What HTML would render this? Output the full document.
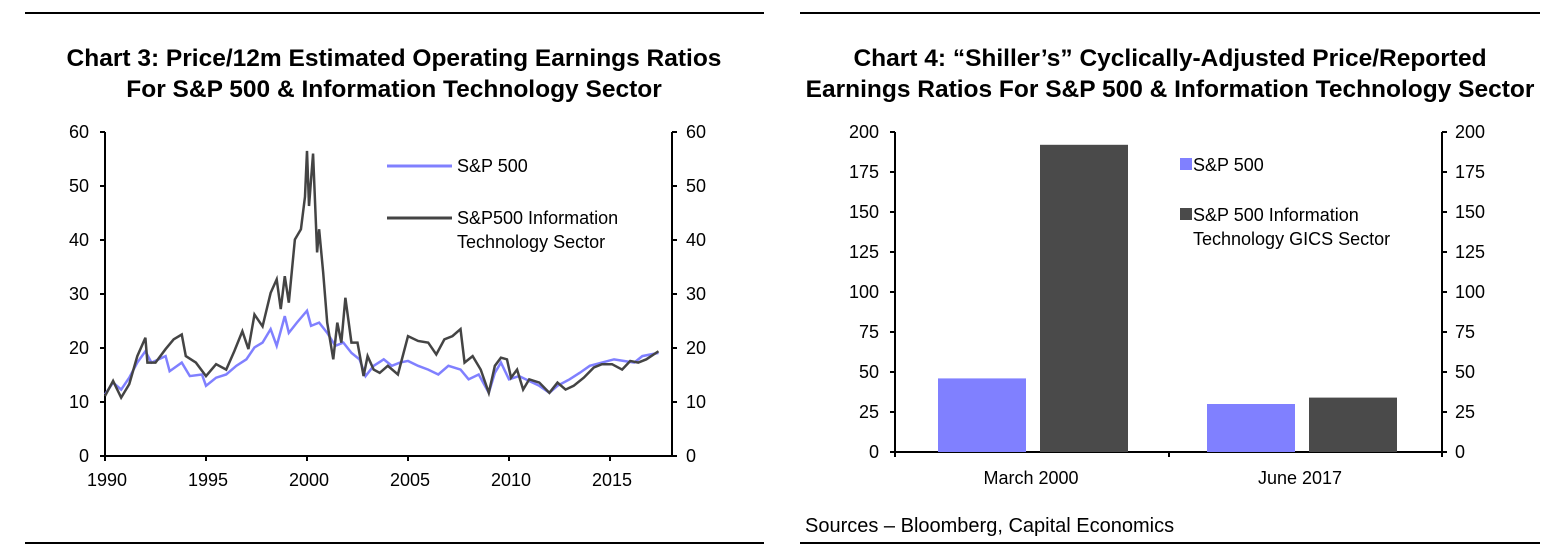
<!DOCTYPE html>
<html><head><meta charset="utf-8"><style>
body{margin:0;background:#fff;width:1567px;height:552px;overflow:hidden}
svg{display:block}
text{font-family:"Liberation Sans",sans-serif;fill:#000}
.t{font-weight:bold;font-size:24.5px}
.k{font-size:18px}
</style></head><body>
<svg id="s" width="1567" height="552">
<line x1="25" y1="13" x2="764" y2="13" stroke="#000" stroke-width="2"/>
<line x1="800" y1="13" x2="1540" y2="13" stroke="#000" stroke-width="2"/>
<line x1="25" y1="543" x2="764" y2="543" stroke="#000" stroke-width="2"/>
<line x1="800" y1="543" x2="1540" y2="543" stroke="#000" stroke-width="2"/>
<text class="t" x="394" y="66" text-anchor="middle">Chart 3: Price/12m Estimated Operating Earnings Ratios</text>
<text class="t" x="394" y="97" text-anchor="middle">For S&amp;P 500 &amp; Information Technology Sector</text>
<text class="t" x="1170" y="66" text-anchor="middle">Chart 4: “Shiller’s” Cyclically-Adjusted Price/Reported</text>
<text class="t" x="1170" y="97" text-anchor="middle">Earnings Ratios For S&amp;P 500 &amp; Information Technology Sector</text>
<text x="805" y="532" style="font-size:20px">Sources – Bloomberg, Capital Economics</text>
<g id="c3"></g>
<g id="c4"></g>
</svg>
<script>
const lineYears=[1990.0,1990.4,1990.8,1991.2,1991.6,1992.0,1992.1,1992.5,1993.0,1993.4,1993.8,1994.0,1994.5,1995.0,1995.5,1996.0,1996.4,1996.8,1997.1,1997.4,1997.8,1998.2,1998.5,1998.7,1998.9,1999.1,1999.4,1999.7,1999.9,2000.0,2000.1,2000.3,2000.5,2000.6,2000.8,2001.0,2001.3,2001.5,2001.7,2001.9,2002.2,2002.5,2002.8,2003.0,2003.3,2003.6,2004.0,2004.5,2005.0,2005.5,2006.0,2006.4,2006.8,2007.2,2007.6,2007.8,2008.2,2008.6,2009.0,2009.3,2009.6,2009.9,2010.1,2010.4,2010.7,2011.0,2011.5,2012.0,2012.4,2012.8,2013.2,2013.7,2014.2,2014.6,2015.1,2015.6,2016.0,2016.4,2016.8,2017.4];
const itValues=[11.1,13.9,10.8,13.3,18.5,21.9,17.3,17.3,19.8,21.6,22.5,18.5,17.3,14.8,17,16,19.4,23.1,19.8,26.2,24,30.2,32.7,27.2,33.3,28.4,40.1,42,48,56.5,46.3,56,37.7,42,34,24.7,17.9,24.7,21,29.3,21,21,14.8,18.5,16,15.4,16.7,15.1,22.2,21.3,21,18.8,21.6,22.2,23.5,17.3,18.5,16,11.7,16.7,18.2,17.9,14.5,16,12.3,14.2,13.6,11.7,13.6,12.3,13,14.5,16.4,17,17,16,17.6,17.3,17.9,19.4];
const spYears=[1990.0,1990.4,1990.8,1991.2,1991.6,1992.0,1992.3,1993.0,1993.2,1993.8,1994.2,1994.8,1995.0,1995.5,1996.0,1996.5,1997.0,1997.4,1997.8,1998.2,1998.5,1998.9,1999.1,1999.5,2000.0,2000.2,2000.6,2001.0,2001.4,2001.8,2002.2,2002.6,2002.9,2003.3,2003.8,2004.2,2004.6,2005.0,2005.5,2006.0,2006.5,2007.0,2007.6,2008.0,2008.5,2009.0,2009.3,2009.6,2010.0,2010.5,2011.0,2011.5,2012.0,2012.4,2013.0,2013.5,2014.0,2014.6,2015.2,2015.7,2016.2,2016.6,2017.4];
const spValues=[11.4,13.6,12.3,14.5,17.3,19.4,17.3,18.5,15.7,17.3,14.8,15.1,13,14.5,15.1,16.7,17.9,20.1,21,23.5,20.4,25.9,22.8,24.7,26.9,24.1,24.7,22.8,20.4,21,19.1,17.9,14.8,16.7,17.9,16.7,17.3,17.6,16.7,16,15.1,16.7,16,14.2,15.1,11.7,15.4,17.3,14.2,14.8,13.9,13,11.7,13,14.2,15.4,16.7,17.3,17.9,17.6,17.3,18.5,19.1];
const xTicks=[1990,1995,2000,2005,2010,2015];
const yTicks3=[0,10,20,30,40,50,60];
const barCats=["March 2000","June 2017"];
const barSP=[46,30];
const barIT=[192,34];
const yTicks4=[0,25,50,75,100,125,150,175,200];
const NS="http://www.w3.org/2000/svg";
function mk(p,tag,a,txt){const e=document.createElementNS(NS,tag);for(const k in a)e.setAttribute(k,a[k]);if(txt!==undefined)e.textContent=txt;p.appendChild(e);return e;}
// chart 3
const c3=document.getElementById('c3');
const X3=y=>105+(y-1990)*20.2, Y3=v=>456-v*5.4;
let e;
e=mk(c3,'line',{x1:105,y1:132,x2:105,y2:456,stroke:'#000','stroke-width':2});


e=mk(c3,'line',{x1:672,y1:132,x2:672,y2:456,stroke:'#000','stroke-width':2});


e=mk(c3,'line',{x1:104,y1:456,x2:673,y2:456,stroke:'#000','stroke-width':2});


yTicks3.forEach(v=>{
 mk(c3,'line',{x1:100,y1:Y3(v),x2:105,y2:Y3(v),stroke:'#000','stroke-width':2});
 mk(c3,'line',{x1:672,y1:Y3(v),x2:677,y2:Y3(v),stroke:'#000','stroke-width':2});
 e=mk(c3,'text',{x:89,y:Y3(v)+6,'text-anchor':'end',class:'k'},v);
 
 
 e=mk(c3,'text',{x:686,y:Y3(v)+6,class:'k'},v);
 
 
});
xTicks.forEach(t=>{
 mk(c3,'line',{x1:X3(t),y1:456,x2:X3(t),y2:461,stroke:'#000','stroke-width':2});
 e=mk(c3,'text',{x:X3(t)+2,y:486,'text-anchor':'middle',class:'k'},t);
 
 
});
e=mk(c3,'polyline',{points:spYears.map((y,i)=>X3(y)+','+Y3(spValues[i])).join(' '),fill:'none',stroke:'#8080ff','stroke-width':2.5});


e=mk(c3,'polyline',{points:lineYears.map((y,i)=>X3(y)+','+Y3(itValues[i])).join(' '),fill:'none',stroke:'#444','stroke-width':2.5});


mk(c3,'line',{x1:387,y1:166,x2:452,y2:166,stroke:'#8080ff','stroke-width':3});
e=mk(c3,'text',{x:457,y:172,class:'k'},'S&P 500');


mk(c3,'line',{x1:387,y1:218,x2:452,y2:218,stroke:'#444','stroke-width':3});
e=mk(c3,'text',{x:457,y:224,class:'k'},'S&P500 Information');


mk(c3,'text',{x:457,y:248,class:'k'},'Technology Sector');
// chart 4
const c4=document.getElementById('c4');
const Y4=v=>452-v*1.6, cx=i=>1032+i*269;
e=mk(c4,'line',{x1:895,y1:132,x2:895,y2:452,stroke:'#000','stroke-width':2});


e=mk(c4,'line',{x1:1442,y1:132,x2:1442,y2:452,stroke:'#000','stroke-width':2});


e=mk(c4,'line',{x1:894,y1:452,x2:1443,y2:452,stroke:'#000','stroke-width':2});


[895,1169,1442].forEach(x=>mk(c4,'line',{x1:x,y1:452,x2:x,y2:457,stroke:'#000','stroke-width':2}));
yTicks4.forEach(v=>{
 mk(c4,'line',{x1:890,y1:Y4(v),x2:895,y2:Y4(v),stroke:'#000','stroke-width':2});
 mk(c4,'line',{x1:1442,y1:Y4(v),x2:1447,y2:Y4(v),stroke:'#000','stroke-width':2});
 e=mk(c4,'text',{x:879,y:Y4(v)+6,'text-anchor':'end',class:'k'},v);
 
 
 e=mk(c4,'text',{x:1455,y:Y4(v)+6,class:'k'},v);
 
 
});
barCats.forEach((c,i)=>{
 e=mk(c4,'rect',{x:cx(i)-94,y:Y4(barSP[i]),width:88,height:452-Y4(barSP[i]),fill:'#8080ff'});
 
 
 e=mk(c4,'rect',{x:cx(i)+8,y:Y4(barIT[i]),width:88,height:452-Y4(barIT[i]),fill:'#4a4a4a'});
 
 
 e=mk(c4,'text',{x:cx(i)-1,y:484,'text-anchor':'middle',class:'k'},c);
 
 
});
mk(c4,'rect',{x:1180,y:158,width:12,height:12,fill:'#8080ff'});
e=mk(c4,'text',{x:1193,y:171,class:'k'},'S&P 500');


mk(c4,'rect',{x:1180,y:208,width:12,height:12,fill:'#4a4a4a'});
e=mk(c4,'text',{x:1193,y:221,class:'k'},'S&P 500 Information');


mk(c4,'text',{x:1193,y:245,class:'k'},'Technology GICS Sector');
</script>
</body></html>
